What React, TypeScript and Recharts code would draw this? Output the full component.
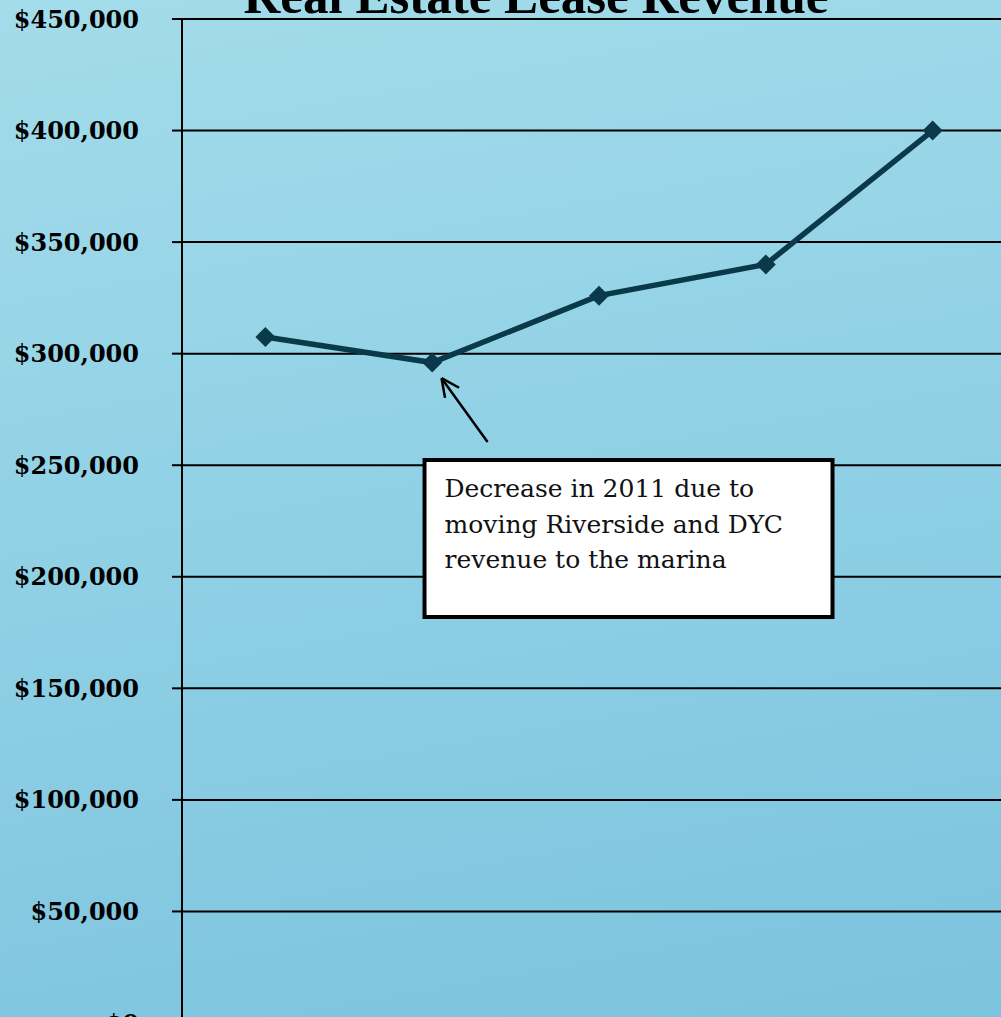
import React from "react";
import {
  LineChart,
  Line,
  XAxis,
  YAxis,
  CartesianGrid,
  ReferenceArea,
  ReferenceLine,
  Customized,
} from "recharts";

// fiscal years (not labelled on the chart)
const years = ["2010", "2011", "2012", "2013", "2014"];
const revenue = [307500, 296000, 326000, 340000, 400000];
const yTicks = [0, 50000, 100000, 150000, 200000, 250000, 300000, 350000, 400000, 450000];

// callout box + arrow, in data units
const noteLines = [
  "Decrease in 2011 due to",
  "moving Riverside and DYC",
  "revenue to the marina",
];
const noteBox = { x1: 1.954, x2: 4.4, y1: 182000, y2: 252300 };
const arrowFrom = { x: 2.332, y: 260400 };
const arrowTo = { x: 2.056, y: 289000 };

const data = years.map((year, i) => ({ x: i + 1, year, revenue: revenue[i] }));

const LINE_COLOR = "#0a3a4a";

const Diamond = (props: any) => {
  const { cx, cy } = props;
  if (cx == null || cy == null) return null;
  const r = 10;
  return (
    <polygon
      points={`${cx},${cy - r} ${cx + r},${cy} ${cx},${cy + r} ${cx - r},${cy}`}
      fill={LINE_COLOR}
    />
  );
};

const NoteText = (props: any) => {
  const vb = props.viewBox || {};
  return (
    <text fontFamily="'DejaVu Serif', serif" fontSize={25} fill="#111">
      {noteLines.map((line, i) => (
        <tspan key={i} x={vb.x + 20} y={vb.y + 37 + i * 35.5}>
          {line}
        </tspan>
      ))}
    </text>
  );
};

const Arrow = (props: any) => {
  const { x1, y1, x2, y2 } = props;
  const ang = Math.atan2(y2 - y1, x2 - x1);
  const len = 20;
  const spread = Math.PI / 7;
  const a1 = ang + Math.PI - spread;
  const a2 = ang + Math.PI + spread;
  return (
    <g stroke="#000" strokeWidth={2.5} fill="none">
      <line x1={x1} y1={y1} x2={x2} y2={y2} />
      <line x1={x2} y1={y2} x2={x2 + len * Math.cos(a1)} y2={y2 + len * Math.sin(a1)} />
      <line x1={x2} y1={y2} x2={x2 + len * Math.cos(a2)} y2={y2 + len * Math.sin(a2)} />
    </g>
  );
};

const Title = () => (
  <text
    x={536}
    y={13}
    textAnchor="middle"
    fontFamily="'Liberation Serif', serif"
    fontWeight="bold"
    fontSize={51}
    fill="#000"
  >
    Real Estate Lease Revenue
  </text>
);

const App: React.FC = () => {
  return (
    <div
      style={{
        position: "absolute",
        left: 0,
        top: 0,
        width: 1001,
        height: 1017,
        overflow: "hidden",
        background: "linear-gradient(170deg, #a3dcea 0%, #8fd0e5 50%, #7cc3de 100%)",
      }}
    >
      <LineChart
        width={1020}
        height={1030}
        data={data}
        margin={{ top: 19, right: 4, left: 0, bottom: 7 }}
      >
        <CartesianGrid vertical={false} stroke="#000" strokeWidth={2} />
        <XAxis type="number" dataKey="x" domain={[0.5, 5.5]} hide />
        <YAxis
          width={182}
          domain={[0, 450000]}
          ticks={yTicks}
          interval={0}
          tickFormatter={(v: number) => `$${v.toLocaleString("en-US")}`}
          tick={{
            fontFamily: "'DejaVu Serif', serif",
            fontWeight: "bold",
            fontSize: 24,
            fill: "#000",
          }}
          tickSize={10}
          tickMargin={33}
          axisLine={{ stroke: "#000", strokeWidth: 2 }}
          tickLine={{ stroke: "#000", strokeWidth: 2 }}
        />
        <ReferenceArea
          x1={noteBox.x1}
          x2={noteBox.x2}
          y1={noteBox.y1}
          y2={noteBox.y2}
          fill="#fff"
          fillOpacity={1}
          stroke="#000"
          strokeWidth={4}
          ifOverflow="visible"
          label={<NoteText />}
        />
        <ReferenceLine
          segment={[arrowFrom, arrowTo]}
          ifOverflow="visible"
          shape={Arrow}
        />
        <Line
          type="linear"
          dataKey="revenue"
          stroke={LINE_COLOR}
          strokeWidth={5.5}
          dot={<Diamond />}
          activeDot={false}
          isAnimationActive={false}
        />
        <Customized component={Title} />
      </LineChart>
    </div>
  );
};

export default App;
